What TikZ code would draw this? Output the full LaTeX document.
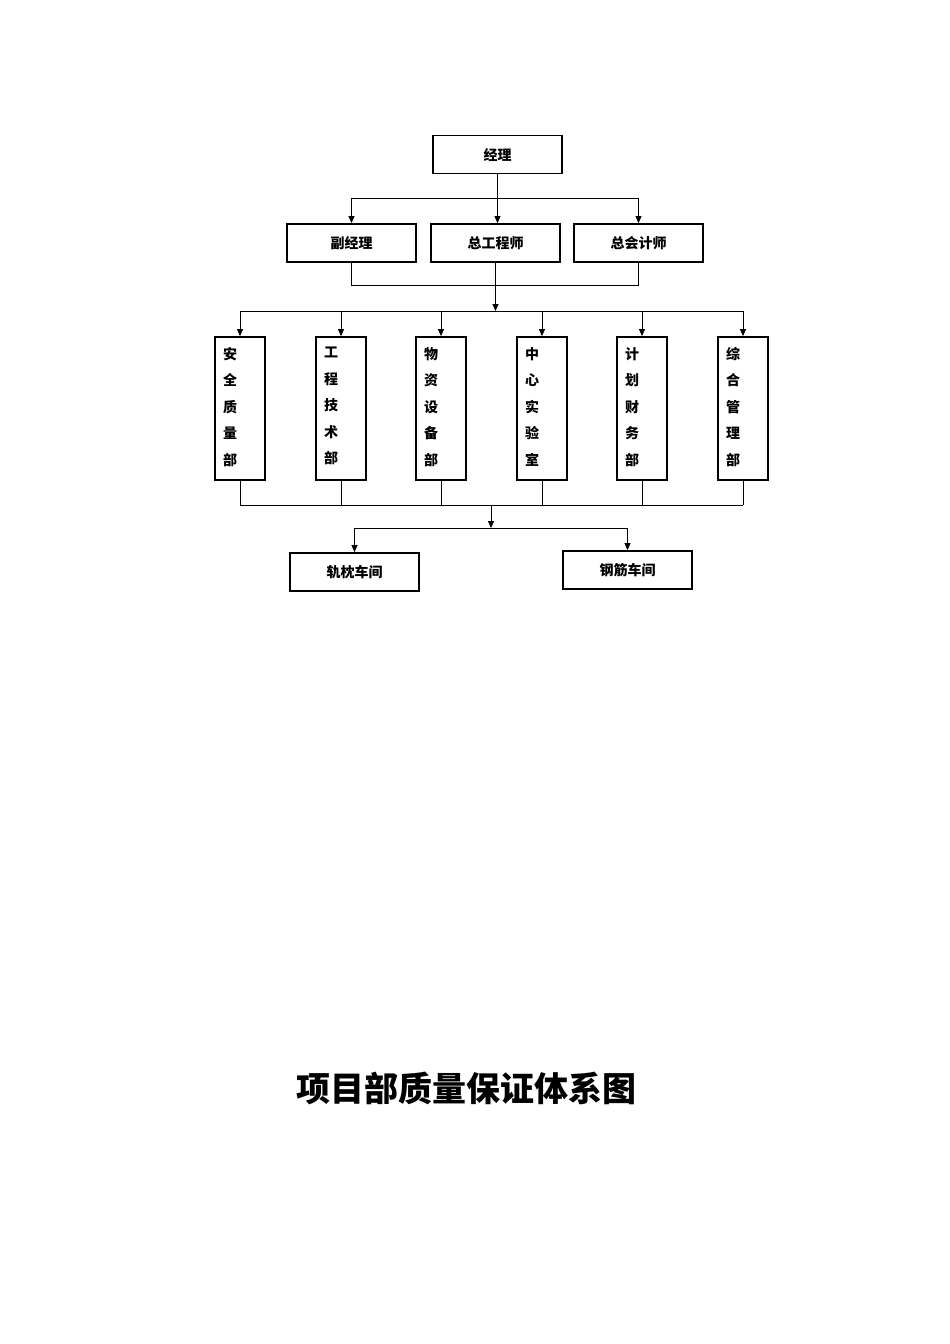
\documentclass[tikz,border=0pt]{standalone}
\usepackage{fontspec}
\setmainfont{Noto Sans CJK SC}
\usetikzlibrary{arrows.meta}
\begin{document}
\begin{tikzpicture}[x=1pt,y=-1pt,
  hbox/.style={draw,line width=1.8pt,minimum width=129pt,minimum height=38pt,inner sep=0pt,font=\fontsize{14}{14}\selectfont\bfseries},
  vbox/.style={draw,line width=1.8pt,minimum width=50pt,minimum height=143pt,inner sep=0pt},
  vtxt/.style={font=\fontsize{14}{26.5}\selectfont\bfseries,align=center,inner sep=0pt},
  ln/.style={line width=0.8pt},
  ar/.style={ln,-{Triangle[length=7pt,width=6pt]}}]
\useasboundingbox (0,0) rectangle (950,1344);
\node[hbox] (jl) at (497.5,154.5) {经理};
\node[hbox] (fjl) at (351.5,243) {副经理};
\node[hbox] (zgcs) at (495.5,243) {总工程师};
\node[hbox] (zkjs) at (638.5,243) {总会计师};
\foreach \n/\x/\t in {a/240/安\\全\\质\\量\\部, b/341/工\\程\\技\\术\\部, c/441/物\\资\\设\\备\\部, d/542/中\\心\\实\\验\\室, e/642/计\\划\\财\\务\\部, f/743/综\\合\\管\\理\\部}{
  \node[vbox] (\n) at (\x,408.5) {};
  \node[vtxt,anchor=north] at (\x-10,347) {\t};
}
\node[hbox] (gz) at (354.5,572) {轨枕车间};
\node[hbox] (gj) at (627.5,570) {钢筋车间};
\coordinate (j1) at (497.5,198);
\draw[ar] (jl.south) -- (zgcs.north-|jl.south);
\draw[ln] (j1-|fjl) -- (j1-|zkjs);
\draw[ar] (j1-|fjl) -- (fjl.north);
\draw[ar] (j1-|zkjs) -- (zkjs.north);
\coordinate (j2) at (495.5,285);
\draw[ln] (fjl.south) -- (j2-|fjl) -- (j2-|zkjs) -- (zkjs.south);
\coordinate (j3) at (495.5,311);
\draw[ar] (zgcs.south) -- (j3);
\draw[ln] (j3-|a) -- (j3-|f);
\foreach \n in {a,b,c,d,e,f}{\draw[ar] (j3-|\n) -- (\n.north);}
\coordinate (j4) at (491,505);
\foreach \n in {a,b,c,d,e,f}{\draw[ln] (\n.south) -- (j4-|\n);}
\draw[ln] (j4-|a) -- (j4-|f);
\coordinate (j5) at (491,528);
\draw[ar] (j4) -- (j5);
\draw[ln] (j5-|gz) -- (j5-|gj);
\draw[ar] (j5-|gz) -- (gz.north);
\draw[ar] (j5-|gj) -- (gj.north);
\node[font=\fontsize{34}{34}\selectfont\bfseries] (title) at (466,1088) {项目部质量保证体系图};
\end{tikzpicture}
\end{document}
